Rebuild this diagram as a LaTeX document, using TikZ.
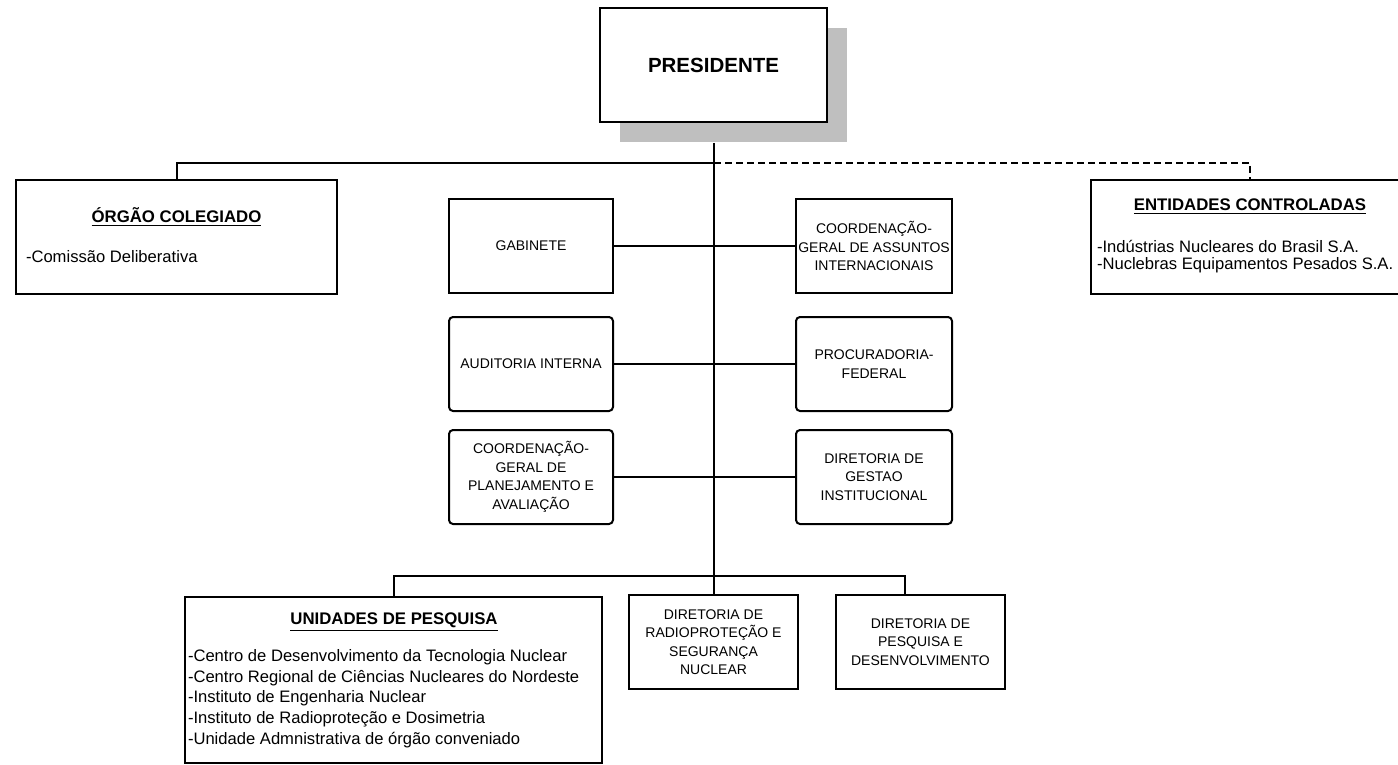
\documentclass[tikz,border=0pt]{standalone}
\usepackage{fontspec}
\setmainfont{Liberation Sans}
\usetikzlibrary{shadows}

\begin{document}
\begin{tikzpicture}[x=0.5pt,y=-0.5pt,line width=1pt,
  box/.style={draw,fill=white,inner sep=0pt,align=center,minimum height=47pt,
    font=\fontsize{7}{9.25}\selectfont},
  rbox/.style={box,rounded corners=2pt},
  bigbox/.style={draw,fill=white,inner sep=0pt},
  hdr/.style={font=\fontsize{8.4}{10}\selectfont\bfseries,inner sep=0pt},
  lst/.style={font=\fontsize{8.3}{10.35}\selectfont,align=left,inner sep=0pt,anchor=west},
  dashline/.style={dash pattern=on 3.5pt off 2pt}]
\useasboundingbox (0,0) rectangle (1398,765);

% presidente
\node[bigbox,minimum width=113.5pt,minimum height=57pt,
  drop shadow={shadow xshift=10pt,shadow yshift=-10pt,fill=black!25,opacity=1},
  font=\fontsize{10.25}{12}\selectfont\bfseries] (pres) at (713.5,65) {PRESIDENTE};

% side boxes
\node[bigbox,minimum width=160.5pt,minimum height=57pt] (org) at (176.5,237) {};
\node[hdr] (orgt) at (176.5,217) {\underline{ÓRGÃO COLEGIADO}};
\node[lst] (orgl) at (25,257) {-Comissão Deliberativa};

\node[bigbox,minimum width=159pt,minimum height=57pt] (ent) at (1250,237) {};
\node[hdr] (entt) at (1250,207) {\underline{ENTIDADES CONTROLADAS}};
\node[lst,font=\fontsize{8.3}{8.5}\selectfont] (entl) at (1096,256.5)
  {-Indústrias Nucleares do Brasil S.A.\\-Nuclebras Equipamentos Pesados S.A.};

% middle
\node[box,minimum width=82pt] (gab) at (531,246) {GABINETE};
\node[box,minimum width=78pt] (cgai) at (874,246) {COORDENAÇÃO-\\GERAL DE ASSUNTOS\\INTERNACIONAIS};
\node[rbox,minimum width=82pt] (aud) at (531,364) {AUDITORIA INTERNA};
\node[rbox,minimum width=78pt] (proc) at (874,364) {PROCURADORIA-\\FEDERAL};
\node[rbox,minimum width=82pt] (cgpa) at (531,477) {COORDENAÇÃO-\\GERAL DE\\PLANEJAMENTO E\\AVALIAÇÃO};
\node[rbox,minimum width=78pt] (dgi) at (874,477) {DIRETORIA DE\\GESTAO\\INSTITUCIONAL};

% bottom
\node[bigbox,minimum width=208.5pt,minimum height=83pt] (unid) at (393.5,680) {};
\node[hdr] (unidt) at (394,622) {\underline{UNIDADES DE PESQUISA}};
\node[lst] (unidl) at (187,698.5) {-Centro de Desenvolvimento da Tecnologia Nuclear\\
  -Centro Regional de Ciências Nucleares do Nordeste\\
  -Instituto de Engenharia Nuclear\\
  -Instituto de Radioproteção e Dosimetria\\
  -Unidade Admnistrativa de órgão conveniado};
\node[box,minimum width=84.5pt] (drsn) at (713.5,642) {DIRETORIA DE\\RADIOPROTEÇÃO E\\SEGURANÇA\\NUCLEAR};
\node[box,minimum width=84.5pt] (dpd) at (920.5,642) {DIRETORIA DE\\PESQUISA E\\DESENVOLVIMENTO};

% connectors
\coordinate (topbus) at (714,163);
\coordinate (botbus) at (714,576);
\draw ([yshift=-10pt]pres.south) -- (drsn.north);
\draw (org.north) |- (topbus);
\draw[dashline] (topbus) -| (ent.north);
\draw (unid.north) |- (botbus) -| ([xshift=-7.75pt]dpd.north);
\draw (gab) -- (cgai);
\draw (aud) -- (proc);
\draw (cgpa) -- (dgi);
\end{tikzpicture}
\end{document}
